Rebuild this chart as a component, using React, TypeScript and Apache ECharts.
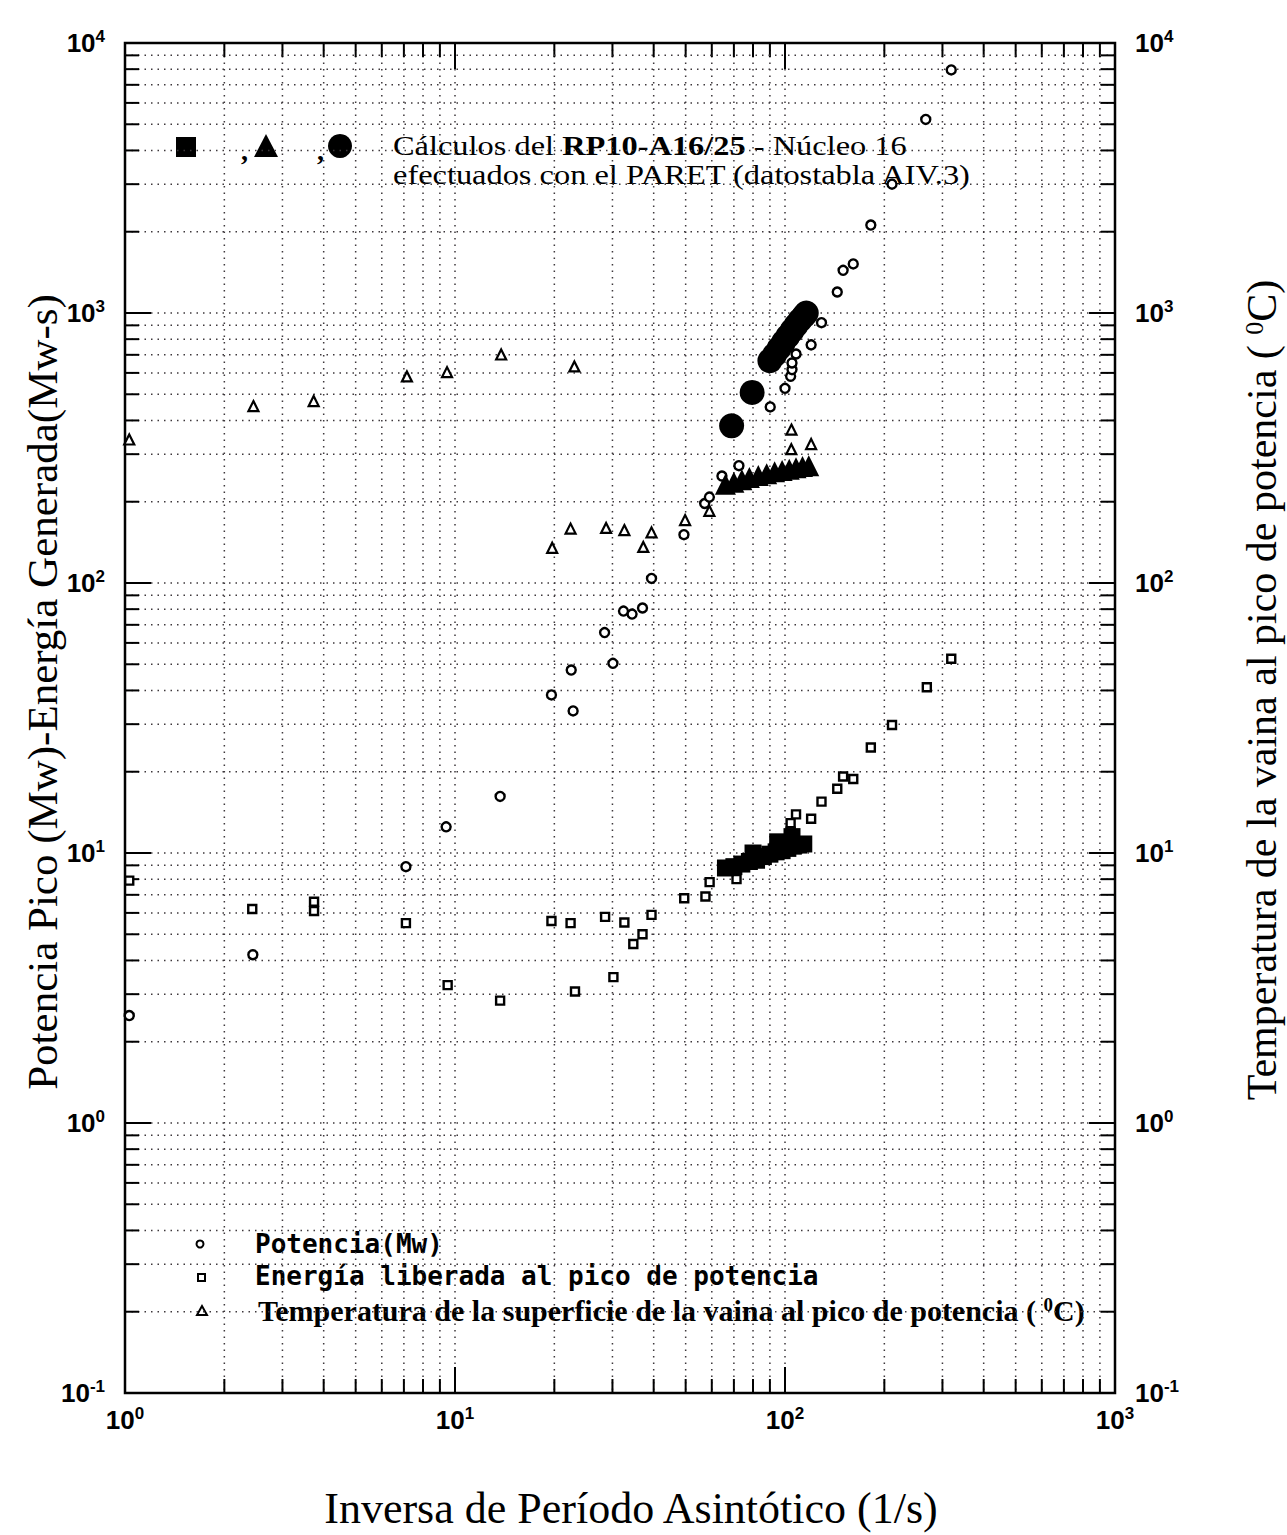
import React, { useEffect, useRef } from "react";
import * as echarts from "echarts";

// ---- Data ----
// Potencia (Mw) — open circles
const potenciaX = [1.03, 2.44, 7.1, 9.4, 13.7, 19.6, 22.5, 22.8, 28.4, 30.1, 32.4, 34.4, 37.0, 39.4, 49.4, 57.1, 59, 64.4, 72.5, 90.2, 100, 104, 105, 105, 108, 120, 129, 144, 150, 161, 182, 211, 267, 319];
const potenciaY = [2.5, 4.2, 8.9, 12.5, 16.2, 38.5, 47.6, 33.6, 65.5, 50.4, 78.7, 76.7, 80.8, 104, 151, 197, 208, 249, 272, 449, 526, 583, 617, 653, 705, 762, 921, 1196, 1439, 1520, 2117, 3000, 5213, 7950];

// Energía liberada al pico de potencia — open squares
const energiaX = [1.03, 2.43, 3.74, 3.74, 7.1, 9.5, 13.7, 19.6, 22.4, 23.1, 28.5, 30.2, 32.6, 34.7, 37.0, 39.4, 49.5, 57.4, 59.1, 71.3, 104, 104, 108, 120, 129, 144, 150, 161, 182, 211, 269, 319];
const energiaY = [7.9, 6.2, 6.6, 6.1, 5.5, 3.24, 2.84, 5.6, 5.5, 3.07, 5.8, 3.47, 5.53, 4.6, 5.0, 5.9, 6.8, 6.9, 7.8, 8.0, 12.0, 12.9, 13.9, 13.4, 15.5, 17.3, 19.2, 18.8, 24.6, 29.8, 41.1, 52.4];

// Temperatura de la superficie de la vaina (°C) — open triangles
const tempX = [1.03, 2.45, 3.73, 7.15, 9.46, 13.8, 23.0, 19.7, 22.4, 28.7, 32.6, 37.2, 39.4, 49.8, 59, 104.6, 104.5, 120];
const tempY = [340, 452, 472, 582, 604, 702, 634, 135, 159, 160, 157, 136, 154, 171, 185, 370, 313, 327];

// PARET calculations (RP10-A16/25 - Núcleo 16) — filled markers
const paretPotX = [68.9, 79.5, 90, 93, 96, 99, 102, 105, 108, 111, 114, 116];
const paretPotY = [382, 508, 666, 700, 740, 780, 820, 860, 900, 940, 975, 1000];

const paretEnergiaX = [66, 70, 74, 78, 80, 82, 86, 90, 94, 95, 98, 102, 105, 106, 110, 114];
const paretEnergiaY = [8.8, 8.9, 9.1, 9.3, 10.0, 9.4, 9.7, 9.9, 10.1, 11.0, 10.2, 10.4, 11.5, 10.6, 10.7, 10.8];

const paretTempX = [66, 70, 74, 78, 83, 88, 93, 98, 103, 108, 113, 118];
const paretTempY = [232, 236, 241, 246, 250, 254, 258, 261, 264, 267, 270, 272];

// Axis extents (decades)
const xDecades = [0, 1, 2, 3];
const yDecades = [-1, 0, 1, 2, 3, 4];
const decadeSteps = [1, 2, 3, 4, 5, 6, 7, 8, 9];

const SERIF = "'Liberation Serif', 'Times New Roman', serif";
const SANS = "'Liberation Sans', Arial, sans-serif";
const MONO = "'DejaVu Sans Mono', 'Liberation Mono', monospace";

function pairs(xs: number[], ys: number[]) {
  return xs.map((x, i) => [x, ys[i]]);
}

function innerTicks(decs: number[]) {
  const out: number[] = [];
  for (let i = 0; i < decs.length - 1; i++) {
    for (const m of decadeSteps) {
      if (i === 0 && m === 1) continue;
      out.push(Number((m * Math.pow(10, decs[i])).toPrecision(6)));
    }
  }
  return out;
}

const labelRich = {
  b: { fontFamily: SANS, fontWeight: "bold", fontSize: 26, color: "#000", lineHeight: 30 },
  s: { fontFamily: SANS, fontWeight: "bold", fontSize: 17, color: "#000", verticalAlign: "top" },
};
const expFmt = (v: number) => `{b|10}{s|${Math.round(Math.log10(v))}}`;

function gridSeries(vals: number[], dir: "x" | "y") {
  return {
    type: "custom",
    coordinateSystem: "cartesian2d",
    xAxisIndex: 0,
    yAxisIndex: 0,
    silent: true,
    z: 1,
    clip: false,
    data: vals.map((v) => (dir === "x" ? [v, 1] : [1, v])),
    renderItem: (params: any, api: any) => {
      const cs = params.coordSys;
      const v = dir === "x" ? api.value(0) : api.value(1);
      const lg = Math.log10(v);
      const major = Math.abs(lg - Math.round(lg)) < 1e-6;
      const len = major ? 26 : 14;
      const tickStyle = { stroke: "#000", lineWidth: 2 };
      const gridStyle = { stroke: "#3e383c", lineWidth: 1.5, lineDash: [1.5, 5] };
      if (dir === "x") {
        const x = api.coord([v, 1])[0];
        return {
          type: "group",
          children: [
            { type: "line", shape: { x1: x, y1: cs.y, x2: x, y2: cs.y + cs.height }, style: gridStyle },
            { type: "line", shape: { x1: x, y1: cs.y, x2: x, y2: cs.y + len }, style: tickStyle },
            { type: "line", shape: { x1: x, y1: cs.y + cs.height, x2: x, y2: cs.y + cs.height - len }, style: tickStyle },
          ],
        };
      }
      const y = api.coord([1, v])[1];
      return {
        type: "group",
        children: [
          { type: "line", shape: { x1: cs.x, y1: y, x2: cs.x + cs.width, y2: y }, style: gridStyle },
          { type: "line", shape: { x1: cs.x, y1: y, x2: cs.x + len, y2: y }, style: tickStyle },
          { type: "line", shape: { x1: cs.x + cs.width, y1: y, x2: cs.x + cs.width - len, y2: y }, style: tickStyle },
        ],
      };
    },
  };
}

function txt(x: number, y: number, text: string, size: number, family: string, weight: string, extra: any = {}) {
  return {
    type: "text",
    x,
    y,
    ...extra.el,
    style: {
      text,
      fontSize: size,
      fontFamily: family,
      fontWeight: weight,
      fill: "#000",
      textAlign: extra.align || "left",
      align: extra.align || "left",
      textVerticalAlign: "middle",
      verticalAlign: "middle",
      rich: extra.rich,
    },
  };
}

export default function App() {
  const ref = useRef<HTMLDivElement>(null);

  useEffect(() => {
    const chart = echarts.init(ref.current!, null, { renderer: "svg" });
    const openStyle = { color: "#fff", borderColor: "#000", borderWidth: 2.4, opacity: 1 };
    const supRich = (size: number, family: string, weight: string) => ({
      sup: { fontSize: size, fontFamily: family, fontWeight: weight, verticalAlign: "top", fill: "#000", color: "#000" },
    });

    const option: any = {
      animation: false,
      backgroundColor: "#fff",
      grid: {
        left: 125,
        top: 43,
        width: 990,
        height: 1350,
        show: true,
        borderColor: "#000",
        borderWidth: 2.5,
        backgroundColor: "rgba(0,0,0,0)",
        containLabel: false,
      },
      xAxis: [
        {
          type: "log",
          logBase: 10,
          min: Math.pow(10, xDecades[0]),
          max: Math.pow(10, xDecades[xDecades.length - 1]),
          axisLine: { show: false },
          axisTick: { show: false },
          splitLine: { show: false },
          axisLabel: { formatter: expFmt, rich: labelRich, margin: 12, showMinLabel: true, showMaxLabel: true },
        },
      ],
      yAxis: [
        {
          type: "log",
          logBase: 10,
          position: "left",
          min: Math.pow(10, yDecades[0]),
          max: Math.pow(10, yDecades[yDecades.length - 1]),
          axisLine: { show: false },
          axisTick: { show: false },
          splitLine: { show: false },
          axisLabel: { formatter: expFmt, rich: labelRich, margin: 20, showMinLabel: true, showMaxLabel: true },
        },
        {
          type: "log",
          logBase: 10,
          position: "right",
          min: Math.pow(10, yDecades[0]),
          max: Math.pow(10, yDecades[yDecades.length - 1]),
          axisLine: { show: false },
          axisTick: { show: false },
          splitLine: { show: false },
          axisLabel: { formatter: expFmt, rich: labelRich, margin: 20, showMinLabel: true, showMaxLabel: true },
        },
      ],
      series: [
        gridSeries(innerTicks(xDecades), "x"),
        gridSeries(innerTicks(yDecades), "y"),
        {
          type: "scatter",
          name: "Potencia(Mw)",
          data: pairs(potenciaX, potenciaY),
          symbol: "circle",
          symbolSize: 9,
          itemStyle: openStyle,
          z: 5,
          clip: false,
        },
        {
          type: "scatter",
          name: "Energía liberada al pico de potencia",
          data: pairs(energiaX, energiaY),
          symbol: "rect",
          symbolSize: 8,
          itemStyle: openStyle,
          z: 5,
          clip: false,
        },
        {
          type: "scatter",
          name: "Temperatura de la superficie de la vaina al pico de potencia (°C)",
          yAxisIndex: 1,
          data: pairs(tempX, tempY),
          symbol: "triangle",
          symbolSize: 10,
          itemStyle: { color: "#fff", borderColor: "#000", borderWidth: 2.2, opacity: 1 },
          z: 5,
          clip: false,
        },
        {
          type: "scatter",
          name: "PARET Potencia",
          data: pairs(paretPotX, paretPotY),
          symbol: "circle",
          symbolSize: 25,
          itemStyle: { color: "#000", opacity: 1 },
          z: 6,
        },
        {
          type: "scatter",
          name: "PARET Energía",
          data: pairs(paretEnergiaX, paretEnergiaY),
          symbol: "rect",
          symbolSize: 17,
          itemStyle: { color: "#000", opacity: 1 },
          z: 6,
        },
        {
          type: "scatter",
          name: "PARET Temperatura",
          yAxisIndex: 1,
          data: pairs(paretTempX, paretTempY),
          symbol: "triangle",
          symbolSize: 21,
          itemStyle: { color: "#000", opacity: 1 },
          z: 6,
        },
      ],
      graphic: [
        // axis titles
        txt(0, 0, "Potencia Pico (Mw)-Energía Generada(Mw-s)", 43, SERIF, "normal", {
          align: "center",
          el: { x: 42, y: 692, rotation: Math.PI / 2 },
        }),
        txt(0, 0, "Temperatura de la vaina al pico de potencia ( {sup|0}C)", 42, SERIF, "normal", {
          align: "center",
          el: { x: 1262, y: 690, rotation: Math.PI / 2 },
          rich: supRich(26, SERIF, "normal"),
        }),
        txt(631, 1508, "Inversa de Período Asintótico (1/s)", 44, SERIF, "normal", { align: "center" }),
        // top legend (PARET)
        { type: "rect", shape: { x: 176, y: 137, width: 20, height: 20 }, style: { fill: "#000" } },
        txt(241, 150, ",", 28, SERIF, "bold"),
        { type: "polygon", shape: { points: [[266, 134], [254, 157], [278, 157]] }, style: { fill: "#000" } },
        txt(317, 150, ",", 28, SERIF, "bold"),
        { type: "circle", shape: { cx: 340, cy: 146, r: 12 }, style: { fill: "#000" } },
        txt(393, 145, "Cálculos del {bb|RP10-A16/25} - Núcleo 16", 27, SERIF, "normal", {
          rich: { bb: { fontSize: 27, fontFamily: SERIF, fontWeight: "bold", color: "#000" } },
          el: { scaleX: 1.2 },
        }),
        txt(393, 174, "efectuados con el PARET (datostabla AIV.3)", 27, SERIF, "normal", {
          el: { scaleX: 1.2 },
        }),
        // bottom legend
        { type: "circle", shape: { cx: 200, cy: 1244, r: 3.5 }, style: { fill: "#fff", stroke: "#000", lineWidth: 2 } },
        { type: "rect", shape: { x: 198, y: 1274, width: 7, height: 7 }, style: { fill: "#fff", stroke: "#000", lineWidth: 2 } },
        { type: "polygon", shape: { points: [[202, 1306], [197, 1315], [207, 1315]] }, style: { fill: "#fff", stroke: "#000", lineWidth: 2 } },
        txt(255, 1244, "Potencia(Mw)", 26, MONO, "bold"),
        txt(255, 1276, "Energía liberada al pico de potencia", 26, MONO, "bold"),
        txt(258, 1310, "Temperatura de la superficie de la vaina al pico de potencia ( {sup|0}C)", 30, SERIF, "bold", {
          rich: supRich(19, SERIF, "bold"),
        }),
      ],
    };

    chart.setOption(option);
    return () => chart.dispose();
  }, []);

  return (
    <div
      ref={ref}
      style={{ position: "fixed", left: 0, top: 0, width: 1287, height: 1535, background: "#fff" }}
    />
  );
}
